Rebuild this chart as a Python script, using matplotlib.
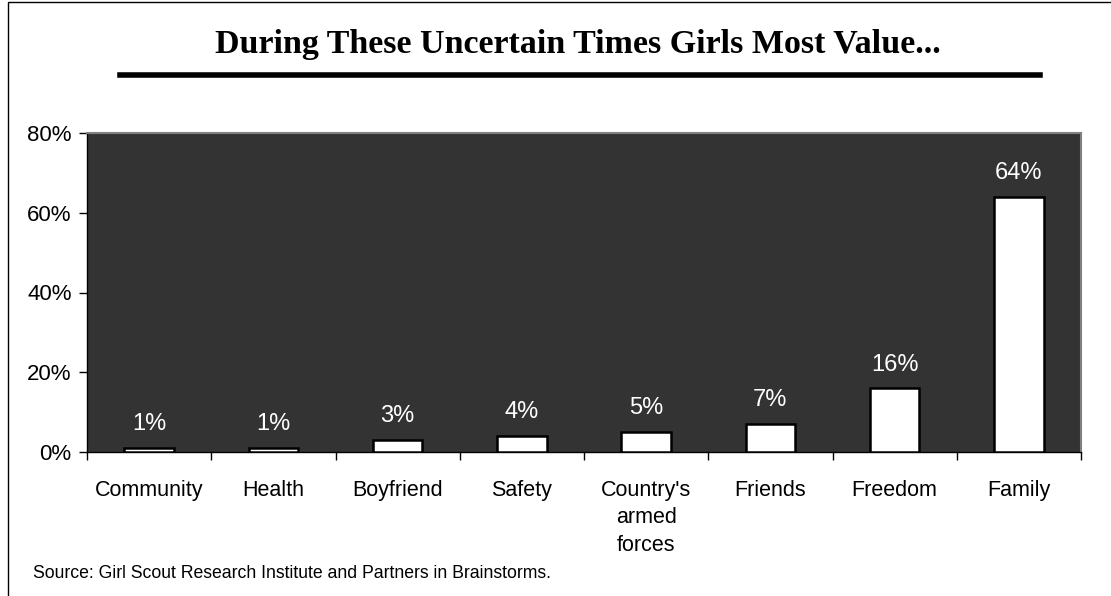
import matplotlib.pyplot as plt
from matplotlib.lines import Line2D
from matplotlib.patches import Rectangle
import numpy as np

categories = ["Community", "Health", "Boyfriend", "Safety",
              "Country's\narmed\nforces", "Friends", "Freedom", "Family"]
values = [1, 1, 3, 4, 5, 7, 16, 64]
y_ticks = [0, 20, 40, 60, 80]

plt.rcParams["font.family"] = ["Liberation Sans", "DejaVu Sans"]

fig = plt.figure(figsize=(11.11, 5.96), dpi=100, facecolor="white")
W, H = 1111, 596
ax = fig.add_axes([87 / W, 1 - 452 / H, (1081 - 87) / W, (452 - 133) / H])
ax.set_facecolor("#333333")

x = np.arange(len(categories))
ax.bar(x, values, width=0.4, color="white", edgecolor="black", linewidth=1.8, zorder=3)
for xi, v in zip(x, values):
    ax.annotate(f"{v}%", (xi, v), xytext=(0, 17), textcoords="offset points",
                ha="center", va="center", color="white", fontsize=17)

ax.set_xlim(-0.5, len(categories) - 0.5)
ax.set_ylim(0, 80)
ax.set_yticks(y_ticks)
ax.set_yticklabels([f"{t}%" for t in y_ticks], fontsize=16)
ax.set_xticks(x)
ax.set_xticklabels(categories, fontsize=15.5, linespacing=1.42, va="top")
ax.set_xticks(np.arange(len(categories) + 1) - 0.5, minor=True)
ax.tick_params(axis="x", which="major", length=0, pad=20)
ax.tick_params(axis="x", which="minor", length=6, direction="out", width=1)
ax.tick_params(axis="y", length=6, direction="out", width=1, pad=5)

for side in ("top", "right"):
    ax.spines[side].set_color("#808080")
    ax.spines[side].set_linewidth(1.5)
for side in ("left", "bottom"):
    ax.spines[side].set_color("black")
    ax.spines[side].set_linewidth(1)

fig.text(578 / W, 1 - 44 / H, "During These Uncertain Times Girls Most Value...",
         ha="center", va="center", fontsize=24.5, fontweight="bold",
         family=["Liberation Serif", "DejaVu Serif"])
fig.add_artist(Line2D([120 / W, 1040 / W], [1 - 75 / H, 1 - 75 / H],
                      color="black", linewidth=4, transform=fig.transFigure))

fig.add_artist(Rectangle((8 / W, -0.05), 1.2, 1 - 2 / H + 0.05, transform=fig.transFigure,
                         facecolor="none", edgecolor="black", linewidth=1))

fig.text(33 / W, 1 - 573 / H,
         "Source: Girl Scout Research Institute and Partners in Brainstorms.",
         ha="left", va="center", fontsize=12.7)

fig.savefig("out.png", dpi=100, facecolor="white")
